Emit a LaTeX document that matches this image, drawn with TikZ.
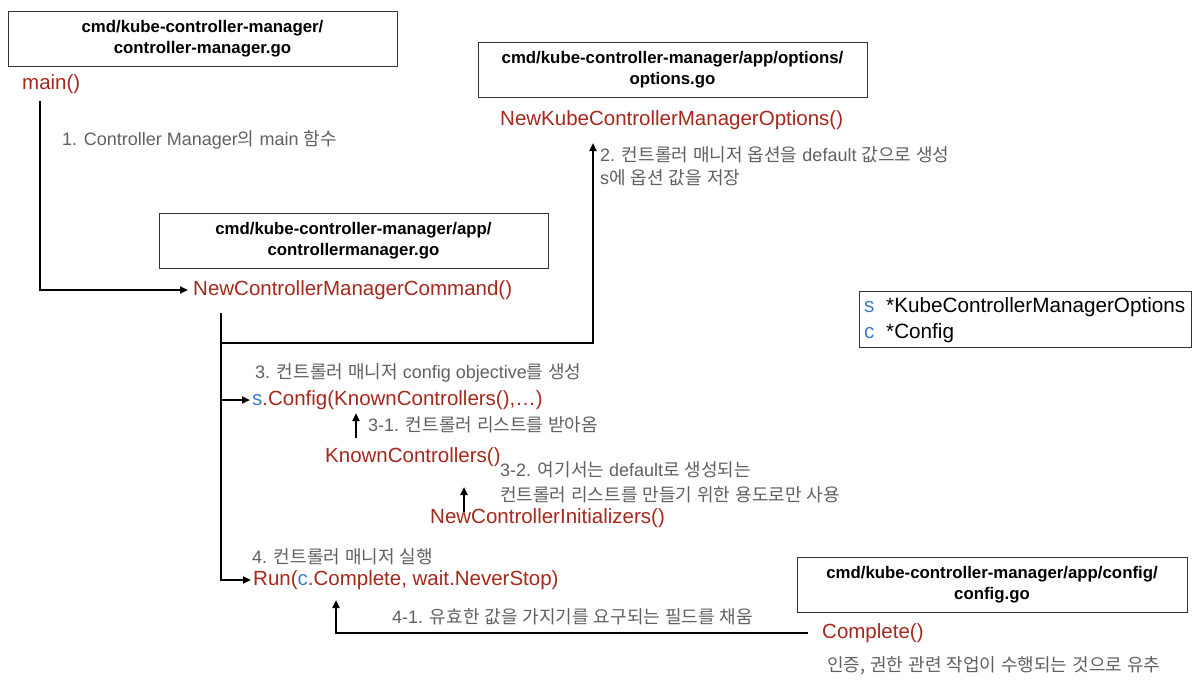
\documentclass[tikz,border=0pt]{standalone}
\usepackage{fontspec}
\setmainfont{Liberation Sans}
\newfontfamily\kr{Noto Sans CJK KR}
\usetikzlibrary{arrows.meta}
\definecolor{fnred}{HTML}{A5281C}
\definecolor{notegray}{HTML}{606060}
\definecolor{varblue}{HTML}{3E7BC4}
\definecolor{boxline}{HTML}{333333}
\begin{document}
\begin{tikzpicture}[x=1pt,y=-1pt,
  fn/.style={text=fnred, font=\fontsize{20.5}{24}\selectfont, inner sep=0pt, anchor=west},
  note/.style={text=notegray, font=\fontsize{18}{21}\selectfont, inner sep=0pt, anchor=west},
  legendtxt/.style={text=black, font=\fontsize{20.7}{24}\selectfont, inner sep=0pt, anchor=west},
  filebox/.style={draw=boxline, line width=0.9pt, align=center,
    font=\bfseries\fontsize{16.8}{21}\selectfont, minimum width=389pt, minimum height=55pt, inner sep=0pt},
  wire/.style={line width=2pt, black},
  arrow/.style={wire, -{Triangle[length=8pt,width=7pt]}}]
\useasboundingbox (0,0) rectangle (1196,686);

% file boxes
\node[filebox] (f1) at (202.5,38.5) {cmd/kube-controller-manager/\\controller-manager.go};
\node[filebox] (f2) at (672.5,70) {cmd/kube-controller-manager/app/options/\\options.go};
\node[filebox] (f3) at (353.5,240.5) {cmd/kube-controller-manager/app/\\controllermanager.go};
\node[filebox, minimum width=390pt] (f4) at (992,584.5) {cmd/kube-controller-manager/app/config/\\config.go};

% legend
\node[draw=boxline, line width=0.9pt, minimum width=332pt, minimum height=56pt, inner sep=0pt] (leg) at (1025,319) {};
\node[legendtxt, text=varblue] (ls) at (864,307) {s};
\node[legendtxt] (lso) at (886,307) {*KubeControllerManagerOptions};
\node[legendtxt, text=varblue] (lc) at (864,333) {c};
\node[legendtxt] (lco) at (886,333) {*Config};

% function names
\node[fn] (main) at (22,84) {main()};
\node[fn] (opts) at (500,120) {NewKubeControllerManagerOptions()};
\node[fn] (ncmc) at (193,290) {NewControllerManagerCommand()};
\node[fn] (cfg) at (252,400) {{\color{varblue}s}.Config(KnownControllers(),…)};
\node[fn] (kc) at (325,457) {KnownControllers()};
\node[fn] (nci) at (430,518) {NewControllerInitializers()};
\node[fn] (run) at (253,580) {Run({\color{varblue}c}.Complete, wait.NeverStop)};
\node[fn] (comp) at (822,633) {Complete()};

% notes
\node[note] (n1) at (62,140) {1. Controller Manager{\kr 의} main {\kr 함수}};
\node[note] (n2a) at (600,155) {2. {\kr 컨트롤러} {\kr 매니저} {\kr 옵션을} default {\kr 값으로} {\kr 생성}};
\node[note] (n2b) at (600,178) {s{\kr 에} {\kr 옵션} {\kr 값을} {\kr 저장}};
\node[note] (n3) at (255,373) {3. {\kr 컨트롤러} {\kr 매니저} config objective{\kr 를} {\kr 생성}};
\node[note] (n31) at (368,425) {3-1. {\kr 컨트롤러} {\kr 리스트를} {\kr 받아옴}};
\node[note] (n32a) at (500,470) {3-2. {\kr 여기서는} default{\kr 로} {\kr 생성되는}};
\node[note] (n32b) at (500,495) {{\kr 컨트롤러} {\kr 리스트를} {\kr 만들기} {\kr 위한} {\kr 용도로만} {\kr 사용}};
\node[note] (n4) at (252,557) {4. {\kr 컨트롤러} {\kr 매니저} {\kr 실행}};
\node[note] (n41) at (392,617) {4-1. {\kr 유효한} {\kr 값을} {\kr 가지기를} {\kr 요구되는} {\kr 필드를} {\kr 채움}};
\node[note] (n5) at (827,666) {{\kr 인증,} {\kr 권한} {\kr 관련} {\kr 작업이} {\kr 수행되는} {\kr 것으로} {\kr 유추}};

% connector helper points
\coordinate (mainout) at (40,101);
\coordinate (ncmcout) at (221,313);
\coordinate (branch) at (221,343);
\coordinate (optsin) at (593,143);
\coordinate (kcout) at (356,438);
\coordinate (cfgin) at (356,413);
\coordinate (nciout) at (464,512);
\coordinate (kcin) at (464,487);
\coordinate (runin) at (336,600);

% connectors
\draw[arrow] (mainout) |- ([xshift=-5pt]ncmc.west);
\draw[arrow] (ncmcout) |- ([xshift=-2pt]run.west);
\draw[arrow] (ncmcout |- cfg.west) -- ([xshift=-2pt]cfg.west);
\draw[arrow] (branch) -| (optsin);
\draw[arrow] (kcout) -- (cfgin);
\draw[arrow] (nciout) -- (kcin);
\draw[arrow] ([xshift=-14pt]comp.west) -| (runin);
\end{tikzpicture}
\end{document}
